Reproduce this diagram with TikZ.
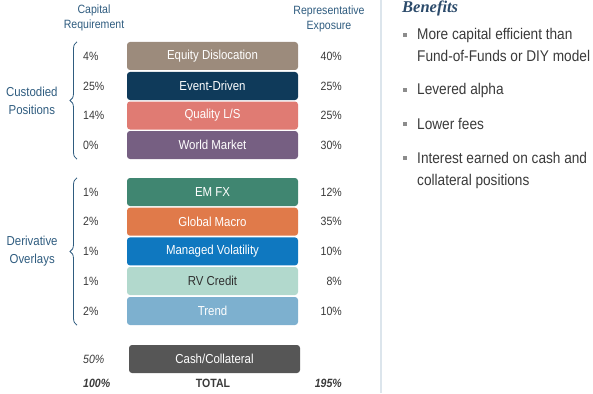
\documentclass[tikz,border=0pt]{standalone}
\usepackage{fontspec}
\setmainfont{Liberation Sans}[FakeStretch=0.88]
\newfontfamily\benefitfont{Liberation Serif}
\usepackage{xcolor}
\usetikzlibrary{decorations.pathreplacing}

\definecolor{eqcol}{HTML}{9C8B7C}
\definecolor{evcol}{HTML}{0F3A5A}
\definecolor{qlcol}{HTML}{E07B73}
\definecolor{wmcol}{HTML}{765F82}
\definecolor{fxcol}{HTML}{408671}
\definecolor{gmcol}{HTML}{E07A4A}
\definecolor{mvcol}{HTML}{0F78C0}
\definecolor{rvcol}{HTML}{B2D9CD}
\definecolor{trcol}{HTML}{7DB0CF}
\definecolor{cashcol}{HTML}{565656}
\definecolor{rvtext}{HTML}{2F2F2F}
\definecolor{pctgray}{HTML}{3A3A3A}
\definecolor{headblue}{HTML}{2F5C7F}
\definecolor{benblue}{HTML}{2C4B6B}
\definecolor{bulletgray}{HTML}{8C8C8C}
\definecolor{divline}{HTML}{DCE5EC}

\begin{document}
\begin{tikzpicture}[x=1pt,y=-1pt,
  strat/.style={rounded corners=3pt,minimum width=171pt,minimum height=28pt,inner sep=0pt,font=\fontsize{13}{15}\selectfont},
  pct/.style={inner sep=0pt,text=pctgray,font=\fontsize{12}{14}\selectfont},
  head/.style={align=center,text=headblue,inner sep=0pt,font=\fontsize{12}{15}\selectfont},
  group/.style={align=center,text=headblue,inner sep=0pt,font=\fontsize{13}{18}\selectfont},
  grpbrace/.style={draw=headblue,line width=0.8pt,decorate,decoration={brace,amplitude=7pt}},
  item/.style={anchor=base west,align=left,inner sep=0pt,text=pctgray,font=\fontsize{15.5}{22}\selectfont},
  bullet/.style={fill=bulletgray,minimum size=4.5pt,inner sep=0pt}]
\useasboundingbox (0,0) rectangle (593,393);

% column heads
\node[head] (caphead) at (94,18) {Capital\\Requirement};
\node[head] (exphead) at (329,19) {Representative\\Exposure};

% strategy bars with their two percentages
\foreach \n/\y/\c/\tc/\t/\cap/\ex in {
  eq/56/eqcol/white/{Equity Dislocation}/4/40,
  ev/86/evcol/white/{Event-Driven}/25/25,
  ql/115.5/qlcol/white/{Quality L/S}/14/25,
  wm/145/wmcol/white/{World Market}/0/30,
  fx/192/fxcol/white/{EM FX}/1/12,
  gm/221.7/gmcol/white/{Global Macro}/2/35,
  mv/251.4/mvcol/white/{Managed Volatility}/1/10,
  rv/281/rvcol/rvtext/{RV Credit}/1/8,
  tr/311/trcol/white/{Trend}/2/10}
{
  \node[strat,fill=\c,text=\tc] (\n) at (212.5,\y) {\t};
  \node[pct,anchor=west] (\n-cap) at (83,\y) {\cap\%};
  \node[pct,anchor=east] (\n-exp) at (342,\y) {\ex\%};
}

\node[strat,fill=cashcol,text=white] (cash) at (214.5,359) {Cash/Collateral};
\node[pct,anchor=west,font=\fontsize{12}{14}\selectfont\itshape] (cash-cap) at (83,359) {50\%};

% totals
\node[pct,anchor=west,font=\fontsize{12}{14}\selectfont\bfseries\itshape] (tot-cap) at (83,383) {100\%};
\node[pct,font=\fontsize{12}{14}\selectfont\bfseries] (tot) at (213,383) {TOTAL};
\node[pct,anchor=east,font=\fontsize{12}{14}\selectfont\bfseries\itshape] (tot-exp) at (342,383) {195\%};

% groups
\draw[grpbrace] ([xshift=-6pt]wm-cap.west |- wm.south) -- ([xshift=-6pt]eq-cap.west |- eq.north)
  node[midway,group,left=19pt] (cust) {Custodied\\Positions};
\draw[grpbrace] ([xshift=-6pt]tr-cap.west |- tr.south) -- ([xshift=-6pt]fx-cap.west |- fx.north)
  node[midway,group,left=19pt] (deriv) {Derivative\\Overlays};

% divider
\draw[divline,line width=1.5pt] (381,0) -- (381,393);

% benefits (base of a two-line item is its last line)
\node[anchor=base west,inner sep=0pt,text=benblue,font=\benefitfont\bfseries\itshape\fontsize{16.5}{18}\selectfont] (ben) at (402,13) {Benefits};
\node[item] (b1) at (417,62) {More capital efficient than\\Fund-of-Funds or DIY model};
\node[item] (b2) at (417,95) {Levered alpha};
\node[item] (b3) at (417,129) {Lower fees};
\node[item] (b4) at (417,185) {Interest earned on cash and\\collateral positions};
\node[bullet] at ([xshift=-12pt,yshift=27pt]b1.base west) {};
\node[bullet] at ([xshift=-12pt,yshift=5pt]b2.base west) {};
\node[bullet] at ([xshift=-12pt,yshift=5pt]b3.base west) {};
\node[bullet] at ([xshift=-12pt,yshift=27pt]b4.base west) {};
\end{tikzpicture}
\end{document}
